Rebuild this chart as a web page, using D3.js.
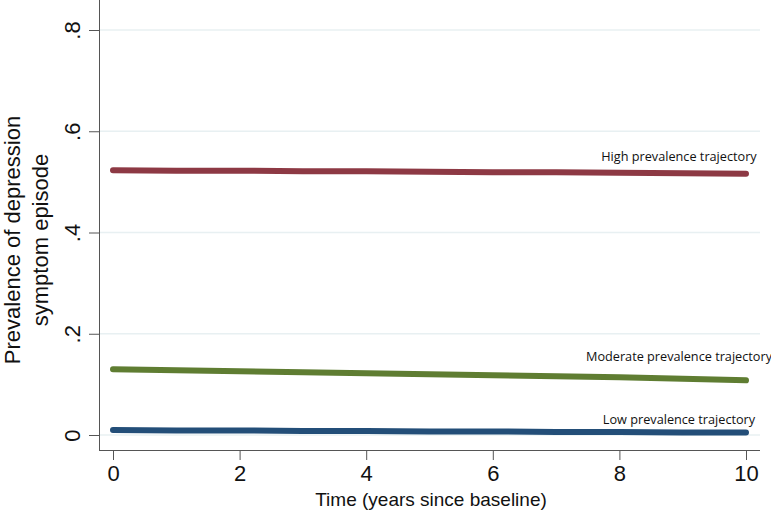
<!DOCTYPE html>
<html><head><meta charset="utf-8">
<script src="https://cdn.jsdelivr.net/npm/d3@7"></script>
<style>body{margin:0;background:#fff}svg{display:block}</style>
</head><body>
<svg id="c" width="771" height="517"></svg>
<script>
const years = [0,1,2,3,4,5,6,7,8,9,10];
const highValues = [0.523,0.522,0.522,0.521,0.521,0.520,0.519,0.519,0.518,0.517,0.516];
const moderateValues = [0.130,0.128,0.126,0.124,0.122,0.120,0.118,0.116,0.114,0.111,0.108];
const lowValues = [0.010,0.009,0.009,0.008,0.008,0.007,0.007,0.006,0.006,0.005,0.005];
const seriesNames = ["High prevalence trajectory","Moderate prevalence trajectory","Low prevalence trajectory"];
const yTicks = [0,0.2,0.4,0.6,0.8];
const yTickLabels = ["0",".2",".4",".6",".8"];
const xTicks = [0,2,4,6,8,10];

const labelOffsets = [-13, -19, -8];
const series = [
  {name: seriesNames[0], values: highValues, color: "#8d3944"},
  {name: seriesNames[1], values: moderateValues, color: "#5f7d32"},
  {name: seriesNames[2], values: lowValues, color: "#234e78"}
];

const svg = d3.select("#c");
const x = d3.scaleLinear().domain([0,10]).range([113,746]);
const y = d3.scaleLinear().domain([0,0.8]).range([435,30]);
const pLeft = 99, pRight = 760, pBottom = 450, pTop = 0;

// gridlines
svg.append("g").selectAll("line").data(yTicks).join("line")
  .attr("x1", pLeft+1).attr("x2", pRight)
  .attr("y1", d=>y(d)).attr("y2", d=>y(d))
  .attr("stroke", "#e8f0f2").attr("stroke-width", 1.5);

// y axis
const yAxis = svg.append("g").attr("transform", `translate(${pLeft},0)`)
  .call(d3.axisLeft(y).tickValues(yTicks).tickFormat((d,i)=>yTickLabels[i]).tickSize(10).tickSizeOuter(0));
yAxis.select(".domain").attr("d", `M0.5,${pTop}V${pBottom}`).attr("stroke","#555");
yAxis.selectAll(".tick line").attr("stroke","#555");
yAxis.selectAll(".tick text")
  .attr("font-family","Liberation Sans, Arial, sans-serif").attr("font-size",22).attr("fill","#111")
  .attr("transform","rotate(-90)").attr("x",0).attr("y",-19).attr("dy","0")
  .attr("text-anchor","middle");

// x axis
const xAxis = svg.append("g").attr("transform", `translate(0,${pBottom})`)
  .call(d3.axisBottom(x).tickValues(xTicks).tickSize(10).tickSizeOuter(0));
xAxis.select(".domain").attr("d", `M${pLeft},0.5H${pRight}`).attr("stroke","#555");
xAxis.selectAll(".tick line").attr("stroke","#555");
xAxis.selectAll(".tick text")
  .attr("font-family","Liberation Sans, Arial, sans-serif").attr("font-size",22).attr("fill","#111")
  .attr("y",15).attr("dy","0.71em");

// titles
svg.append("text").attr("x", 431).attr("y", 506).attr("text-anchor","middle")
  .attr("font-family","Liberation Sans, Arial, sans-serif").attr("font-size",19).attr("fill","#111")
  .text("Time (years since baseline)");
const yt = svg.append("text").attr("transform","translate(0,240) rotate(-90)")
  .attr("text-anchor","middle")
  .attr("font-family","Liberation Sans, Arial, sans-serif").attr("font-size",22).attr("fill","#111");
yt.append("tspan").attr("x",0).attr("y",20).text("Prevalence of depression");
yt.append("tspan").attr("x",0).attr("y",48).text("symptom episode");

// lines
const line = d3.line().x((d,i)=>x(years[i])).y(d=>y(d));
svg.append("g").selectAll("path").data(series).join("path")
  .attr("d", d=>line(d.values)).attr("fill","none")
  .attr("stroke", d=>d.color).attr("stroke-width",6)
  .attr("stroke-linecap","round").attr("stroke-linejoin","round");

// labels
svg.append("g").selectAll("text").data(series).join("text")
  .attr("x", 679).attr("y", (d,i)=>y(d.values[d.values.length-1]) + labelOffsets[i])
  .attr("text-anchor","middle")
  .attr("font-family","Open Sans, sans-serif").attr("font-size",12.7).attr("fill","#111")
  .text(d=>d.name);
</script>
</body></html>
